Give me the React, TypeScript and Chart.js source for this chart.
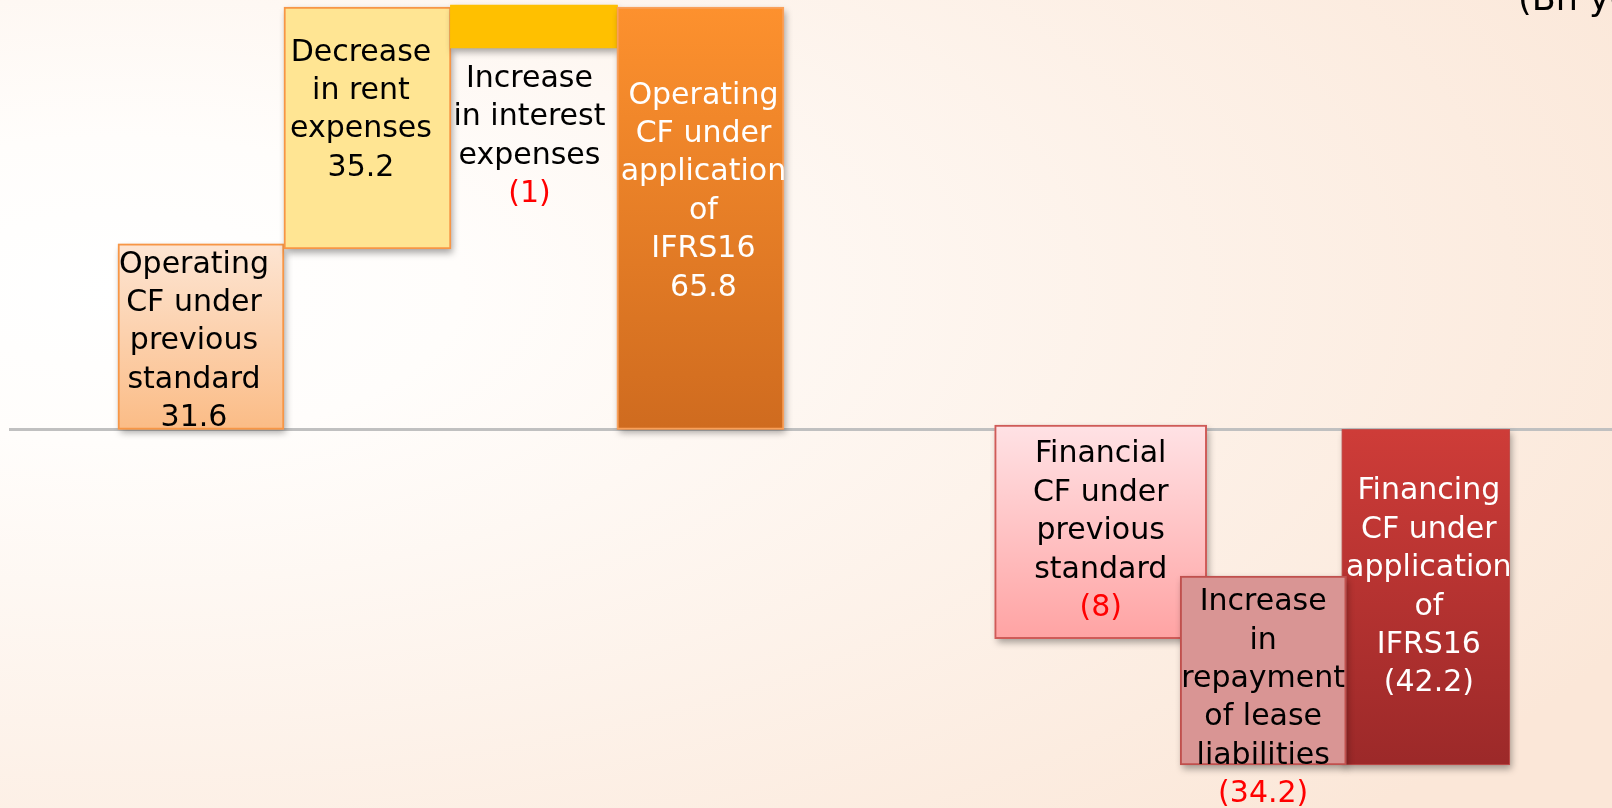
import React, { useEffect, useRef } from "react";
import { Chart, registerables } from "chart.js";

Chart.register(...registerables);

// ---- data ----
const categories = [
  "Operating CF under previous standard",
  "Decrease in rent expenses",
  "Increase in interest expenses",
  "Operating CF under application of IFRS16",
  "Financial CF under previous standard",
  "Increase in repayment of lease liabilities",
  "Financing CF under application of IFRS16",
];
const labelLines = [
  ["Operating", "CF under", "previous", "standard"],
  ["Decrease", "in rent", "expenses"],
  ["Increase", "in interest", "expenses"],
  ["Operating", "CF under", "application", "of", "IFRS16"],
  ["Financial", "CF under", "previous", "standard"],
  ["Increase", "in", "repayment", "of lease", "liabilities"],
  ["Financing", "CF under", "application", "of", "IFRS16"],
];
const valueLabels = ["31.6", "35.2", "(1)", "65.8", "(8)", "(34.2)", "(42.2)"];
// floating bar extents as drawn in the picture
const barLow = [0, 28.2, 59.6, 0, -32.7, -52.4, -52.4];
const barHigh = [29.0, 66.0, 66.3, 66.0, 0.7, -22.9, 0];
const unitLabel = "(Bn yen)";

// ---- layout / style ----
const slotX = [1, 2, 3, 4, 6.404, 7.38, 8.357];
const barWidths = [166, 167, 167, 167, 212, 166, 168];
const gradTop = ["#fde5d3", "#ffe593", "#ffc000", "#fd912e", "#ffe2e5", "#d99594", "#ce3c38"];
const gradBottom = ["#fbbc86", "#ffe593", "#ffc000", "#cf6b1f", "#ffa3a3", "#d99594", "#9c2929"];
const borderColors = ["#f79646", "#f79646", "#ffc000", "#f9a05a", "#cf5b58", "#c0504d", "#c0504d"];
const borderWidths = [2, 2, 0, 2, 2, 2, 1];
const textColors = ["#000", "#000", "#000", "#fff", "#000", "#000", "#fff"];
const valueColors = ["#000", "#000", "#ff0000", "#fff", "#ff0000", "#ff0000", "#fff"];
const textDx = [-7, -6.5, -4.5, 3, 0, 0, 3];
const textDy = [5, -17.5, 110, -26.5, -0.5, 28, -9.5];
const drawOrder = [3, 2, 1, 0, 7, 5, 6];
const FONT = '30px "DejaVu Sans", Verdana, sans-serif';
const LINE_H = 38.4;

const backgroundPlugin = {
  id: "bg",
  beforeDraw(chart: any) {
    const { ctx, width, height } = chart;
    ctx.save();
    ctx.fillStyle = "#fce8da";
    ctx.fillRect(0, 0, width, height);
    const cx = 120, cy = 290, sy = 0.45;
    ctx.translate(cx, cy);
    ctx.scale(1, sy);
    const g = ctx.createRadialGradient(0, 0, 0, 0, 0, 1700);
    g.addColorStop(0, "#ffffff");
    g.addColorStop(0.2, "#fffdfb");
    g.addColorStop(1, "#fbe7d8");
    ctx.fillStyle = g;
    ctx.fillRect(-cx, -cy / sy, width, height / sy);
    ctx.restore();
  },
};

const zeroLinePlugin = {
  id: "zeroLine",
  beforeDatasetsDraw(chart: any) {
    const { ctx, chartArea, scales } = chart;
    const y0 = scales.y.getPixelForValue(0);
    ctx.save();
    ctx.strokeStyle = "#c0c0c0";
    ctx.lineWidth = 3;
    ctx.beginPath();
    ctx.moveTo(chartArea.left, y0);
    ctx.lineTo(chartArea.right, y0);
    ctx.stroke();
    ctx.restore();
  },
};

const shadowPlugin = {
  id: "barShadow",
  beforeDatasetDraw(chart: any, args: any) {
    const { ctx } = chart;
    const meta = args.meta;
    const i = args.index;
    ctx.save();
    ctx.shadowColor = "rgba(0,0,0,0.35)";
    ctx.shadowBlur = 7;
    ctx.shadowOffsetX = 2;
    ctx.shadowOffsetY = 4;
    ctx.fillStyle = gradBottom[i];
    meta.data.forEach((el: any) => {
      const { x, y, base, width } = el.getProps(["x", "y", "base", "width"], true);
      ctx.fillRect(x - width / 2, Math.min(y, base), width, Math.abs(base - y));
    });
    ctx.restore();
  },
};

const textPlugin = {
  id: "barText",
  afterDatasetsDraw(chart: any) {
    const { ctx } = chart;
    ctx.save();
    ctx.font = FONT;
    ctx.textAlign = "center";
    ctx.textBaseline = "middle";
    categories.forEach((_, i) => {
      const el = chart.getDatasetMeta(i).data[0];
      if (!el) return;
      const { x, y, base } = el.getProps(["x", "y", "base"], true);
      const cx = x + textDx[i];
      const cy = (y + base) / 2 + textDy[i];
      const lines = [...labelLines[i], valueLabels[i]];
      const n = lines.length;
      lines.forEach((t, j) => {
        ctx.fillStyle = j === n - 1 ? valueColors[i] : textColors[i];
        ctx.fillText(t, cx, cy + (j - (n - 1) / 2) * LINE_H);
      });
    });
    // unit label, partly outside the frame as in the source
    ctx.textAlign = "left";
    ctx.textBaseline = "alphabetic";
    ctx.fillStyle = "#000";
    ctx.font = '35px "DejaVu Sans", Verdana, sans-serif';
    ctx.fillText(unitLabel, 1518, 10);
    ctx.restore();
  },
};

export default function App() {
  const ref = useRef<HTMLCanvasElement | null>(null);
  useEffect(() => {
    if (!ref.current) return;
    const datasets = categories.map((name, i) => ({
      label: name,
      data: [{ x: slotX[i], y: [barLow[i], barHigh[i]] }],
      grouped: false,
      barThickness: barWidths[i],
      order: drawOrder[i],
      borderSkipped: false,
      borderWidth: borderWidths[i],
      borderColor: borderColors[i],
      backgroundColor: (c: any) => {
        const chart = c.chart;
        if (!chart.chartArea || !chart.scales.y) return gradTop[i];
        const ys = chart.scales.y;
        const top = ys.getPixelForValue(barHigh[i]);
        const bot = ys.getPixelForValue(barLow[i]);
        const g = chart.ctx.createLinearGradient(0, top, 0, bot);
        g.addColorStop(0, gradTop[i]);
        g.addColorStop(1, gradBottom[i]);
        return g;
      },
    }));
    const chart = new Chart(ref.current, {
      type: "bar",
      data: { datasets },
      options: {
        animation: false,
        responsive: false,
        maintainAspectRatio: false,
        layout: { padding: { left: 9, right: 0, top: 0, bottom: 0 } },
        plugins: { legend: { display: false }, tooltip: { enabled: false }, title: { display: false } },
        scales: {
          x: { type: "linear", display: false, min: -0.153, max: 9.475, offset: false, grid: { display: false } },
          y: { type: "linear", display: false, min: -59.15, max: 67.1, grid: { display: false } },
        },
      } as any,
      plugins: [backgroundPlugin, zeroLinePlugin, shadowPlugin, textPlugin],
    });
    return () => chart.destroy();
  }, []);
  return (
    <div style={{ position: "fixed", left: 0, top: 0, width: 1612, height: 808, overflow: "hidden" }}>
      <canvas ref={ref} width={1612} height={808} style={{ display: "block", width: 1612, height: 808 }} />
    </div>
  );
}
